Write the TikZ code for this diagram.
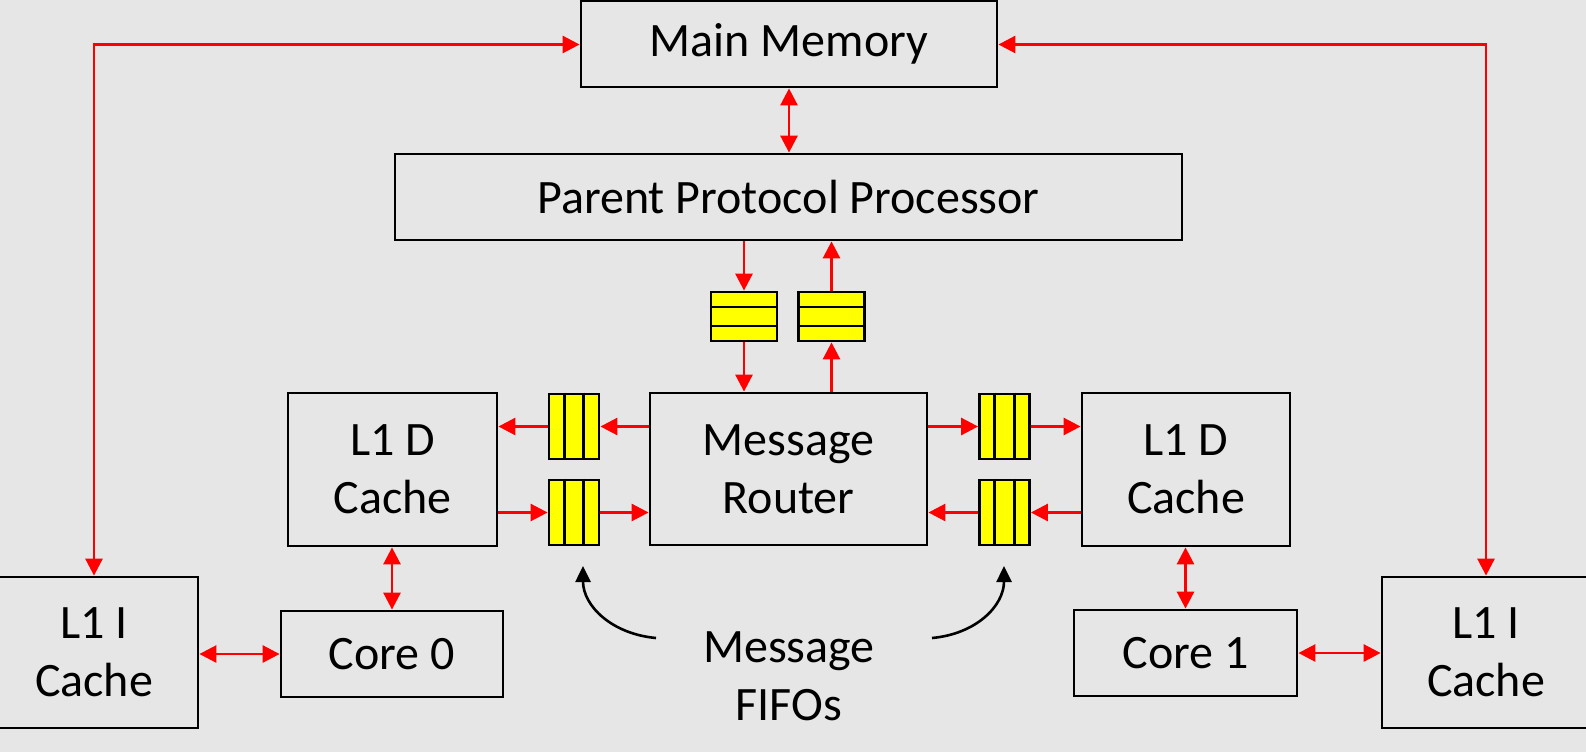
\documentclass[tikz,border=0pt]{standalone}
\usepackage{fontspec}
\setmainfont{Carlito}
\usetikzlibrary{arrows.meta}
\definecolor{bgc}{HTML}{E6E6E6}
\definecolor{fifoy}{HTML}{FFFF00}
\definecolor{redc}{HTML}{FF0000}
\begin{document}
\begin{tikzpicture}[x=1pt,y=1pt,
  box/.style={draw=black,line width=2.8pt,fill=bgc,inner sep=0pt,align=center,
    font=\fontsize{48}{58}\selectfont},
  fifobox/.style={draw=black,line width=2.8pt,fill=fifoy,inner sep=0pt},
  link/.style={draw=redc,line width=2.8pt,-{Triangle[length=17pt,width=17pt]}},
  blink/.style={draw=redc,line width=2.8pt,{Triangle[length=17pt,width=17pt]}-{Triangle[length=17pt,width=17pt]}},
  curvy/.style={draw=black,line width=2.6pt,-{Triangle[length=16pt,width=15pt]}},
  lbl/.style={inner sep=0pt,align=center,font=\fontsize{48}{58}\selectfont}
]
\fill[bgc] (0,0) rectangle (1586,-752);
\clip (0,0) rectangle (1586,-752);

% boxes
\node[box,minimum width=416pt,minimum height=86pt] (mm) at (789,-44) {Main Memory};
\node[box,minimum width=787pt,minimum height=86pt] (ppp) at (788.5,-197) {Parent Protocol Processor};
\node[box,minimum width=277pt,minimum height=152pt] (rt) at (788.5,-469) {Message\\Router};
\node[box,minimum width=209pt,minimum height=153pt] (l1dl) at (392.5,-469.5) {L1 D\\Cache};
\node[box,minimum width=208pt,minimum height=153pt] (l1dr) at (1186,-469.5) {L1 D\\Cache};
\node[box,minimum width=222pt,minimum height=86pt] (c0) at (392,-654) {Core 0};
\node[box,minimum width=223pt,minimum height=86pt] (c1) at (1185.5,-653) {Core 1};
\node[box,minimum width=208pt,minimum height=151pt] (l1il) at (94,-652.5) {L1 I\\Cache};
\node[box,minimum width=208pt,minimum height=151pt] (l1ir) at (1486,-652.5) {L1 I\\Cache};

% horizontal fifos (top)
\foreach \n/\cx in {ft1/744,ft2/831.5}{
  \node[fifobox,minimum width=66pt,minimum height=49pt] (\n) at (\cx,-316.5) {};
  \draw[line width=2.8pt] ([yshift=-16.33pt]\n.north west) -- ([yshift=-16.33pt]\n.north east);
  \draw[line width=2.8pt] ([yshift=16.33pt]\n.south west) -- ([yshift=16.33pt]\n.south east);
}
% vertical fifos (side)
\foreach \n/\cx/\cy in {fl1/574/426.5,fl2/574/512.5,fr1/1004.5/426.5,fr2/1004.5/512.5}{
  \node[fifobox,minimum width=50pt,minimum height=65pt] (\n) at (\cx,-\cy) {};
  \draw[line width=2.8pt] ([xshift=16.67pt]\n.north west) -- ([xshift=16.67pt]\n.south west);
  \draw[line width=2.8pt] ([xshift=-16.67pt]\n.north east) -- ([xshift=-16.67pt]\n.south east);
}

% memory links
\draw[blink] (mm.south) -- (mm.south |- ppp.north);
\draw[link] (ppp.south -| ft1.north) -- (ft1.north);
\draw[link] (ft1.south) -- (ft1.south |- rt.north);
\draw[link] (rt.north -| ft2.south) -- (ft2.south);
\draw[link] (ft2.north) -- (ft2.north |- ppp.south);

\coordinate (ltop) at (94,-44.5);
\coordinate (rtop) at (1486,-44.5);
\draw[blink] (l1il.north) -- (ltop) -- (ltop -| mm.west);
\draw[blink] (l1ir.north) -- (rtop) -- (rtop -| mm.east);

% side fifo links
\draw[link] (fl1.west) -- (fl1.west -| l1dl.east);
\draw[link] (fl1.east -| rt.west) -- (fl1.east);
\draw[link] (fl2.west -| l1dl.east) -- (fl2.west);
\draw[link] (fl2.east) -- (fl2.east -| rt.west);
\draw[link] (fr1.west -| rt.east) -- (fr1.west);
\draw[link] (fr1.east) -- (fr1.east -| l1dr.west);
\draw[link] (fr2.east -| l1dr.west) -- (fr2.east);
\draw[link] (fr2.west) -- (fr2.west -| rt.east);

% cores
\draw[blink] (l1dl.south -| c0.north) -- (c0.north);
\draw[blink] (l1dr.south -| c1.north) -- (c1.north);
\draw[blink] (l1il.east |- c0.west) -- (c0.west);
\draw[blink] (c1.east) -- (c1.east -| l1ir.west);

% label and curved arrows
\node[lbl] (mf) at (789,-676) {Message\\FIFOs};
\coordinate (cl) at (656,-638);
\coordinate (cr) at (932,-638);
\coordinate (tl) at (583,-566);
\coordinate (tr) at (1004,-566);
\draw[curvy] (cl) .. controls (612,-634) and (583,-606) .. (tl);
\draw[curvy] (cr) .. controls (976,-634) and (1004,-606) .. (tr);
\end{tikzpicture}
\end{document}
